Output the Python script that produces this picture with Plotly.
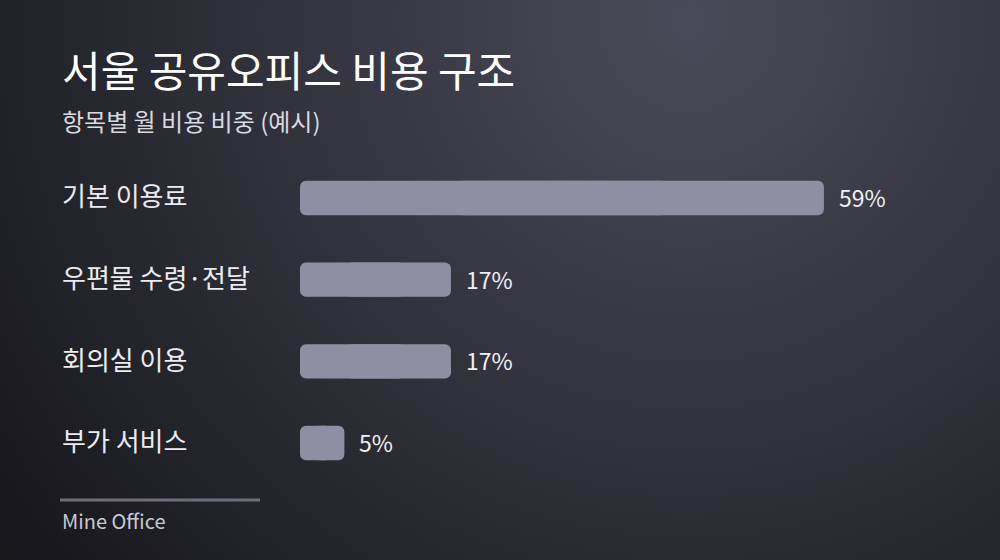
import base64
import plotly.graph_objects as go

# datos
categorias = ["기본 이용료", "우편물 수령·전달", "회의실 이용", "부가 서비스"]
valores = [59, 17, 17, 5]

titulo = "서울 공유오피스 비용 구조"
subtitulo = "항목별 월 비용 비중 (예시)"
fuente = "Mine Office"

ANCHO, ALTO = 1000, 560
FUENTE = "Noto Sans CJK KR, Noto Sans, sans-serif"
COLOR_BARRA = "#8f8fa3"

# fondo con degradado radial (svg embebido)
svg = f"""<svg xmlns='http://www.w3.org/2000/svg' width='{ANCHO}' height='{ALTO}'>
<defs><radialGradient id='g' gradientUnits='userSpaceOnUse' cx='690' cy='20' r='860'>
<stop offset='0' stop-color='#4b4a5a'/>
<stop offset='0.45' stop-color='#34343f'/>
<stop offset='1' stop-color='#16161b'/>
</radialGradient></defs>
<rect width='{ANCHO}' height='{ALTO}' fill='url(#g)'/></svg>"""
fondo = "data:image/svg+xml;base64," + base64.b64encode(svg.encode()).decode()

fig = go.Figure()

# cada barra en dos tramos solapados para redondear ambos extremos
tramo_der_base = [0.3 * v for v in valores]
tramo_der_largo = [0.7 * v for v in valores]
tramo_izq_base = [0.7 * v for v in valores]
tramo_izq_largo = [-0.7 * v for v in valores]

for base, largo in ((tramo_der_base, tramo_der_largo), (tramo_izq_base, tramo_izq_largo)):
    fig.add_trace(go.Bar(
        x=largo,
        y=categorias,
        base=base,
        orientation="h",
        marker=dict(color=COLOR_BARRA, cornerradius=6, line=dict(width=0)),
        width=0.42,
        hoverinfo="skip",
    ))

# márgenes a cero: paper = figura completa
px_por_unidad = 8.88
dominio_x = [0.30, 1.0]
rango_x = [0, (dominio_x[1] - dominio_x[0]) * ANCHO / px_por_unidad]

centro_sup, centro_inf, paso = 198, 443, (443 - 198) / 3
dom_y = [1 - (centro_inf + paso / 2) / ALTO, 1 - (centro_sup - paso / 2) / ALTO]

anotaciones = []
for cat, val in zip(categorias, valores):
    # etiqueta de categoría alineada a la izquierda
    anotaciones.append(dict(
        xref="paper", yref="y", x=0.06, y=cat, xanchor="left", yanchor="middle",
        yshift=3, text=cat, showarrow=False, font=dict(size=26, color="#ebebf0"),
    ))
    # valor al final de la barra
    anotaciones.append(dict(
        xref="x", yref="y", x=val, y=cat, xanchor="left", yanchor="middle",
        xshift=13, yshift=1, text=f"{val}%", showarrow=False,
        font=dict(size=23, color="#f0f0f4"),
    ))

anotaciones += [
    dict(xref="paper", yref="paper", x=0.06, y=1 - 68 / ALTO, xanchor="left", yanchor="middle",
         text=titulo, showarrow=False, font=dict(size=42, color="#ffffff")),
    dict(xref="paper", yref="paper", x=0.06, y=1 - 120 / ALTO, xanchor="left", yanchor="middle",
         text=subtitulo, showarrow=False, font=dict(size=24, color="#d9d9e1")),
    dict(xref="paper", yref="paper", x=0.06, y=1 - 520 / ALTO, xanchor="left", yanchor="middle",
         text=fuente, showarrow=False, font=dict(size=20, color="#c9c9d2")),
]

fig.update_layout(
    width=ANCHO,
    height=ALTO,
    margin=dict(l=0, r=0, t=0, b=0),
    paper_bgcolor="#1b1b21",
    plot_bgcolor="rgba(0,0,0,0)",
    font=dict(family=FUENTE, color="#ffffff"),
    showlegend=False,
    barmode="overlay",
    images=[dict(source=fondo, xref="paper", yref="paper", x=0, y=1,
                 sizex=1, sizey=1, sizing="stretch", layer="below")],
    annotations=anotaciones,
    shapes=[dict(type="line", xref="paper", yref="paper",
                 x0=0.06, x1=0.26, y0=1 - 500 / ALTO, y1=1 - 500 / ALTO,
                 line=dict(color="#6f6d7c", width=3))],
    xaxis=dict(domain=dominio_x, range=rango_x, visible=False, fixedrange=True),
    yaxis=dict(domain=dom_y, range=[3.5, -0.5], visible=False, fixedrange=True,
               type="category"),
)

fig.write_html("out.html", config=dict(displayModeBar=False),
               post_script="document.body.style.margin='0';document.body.style.overflow='hidden';")
